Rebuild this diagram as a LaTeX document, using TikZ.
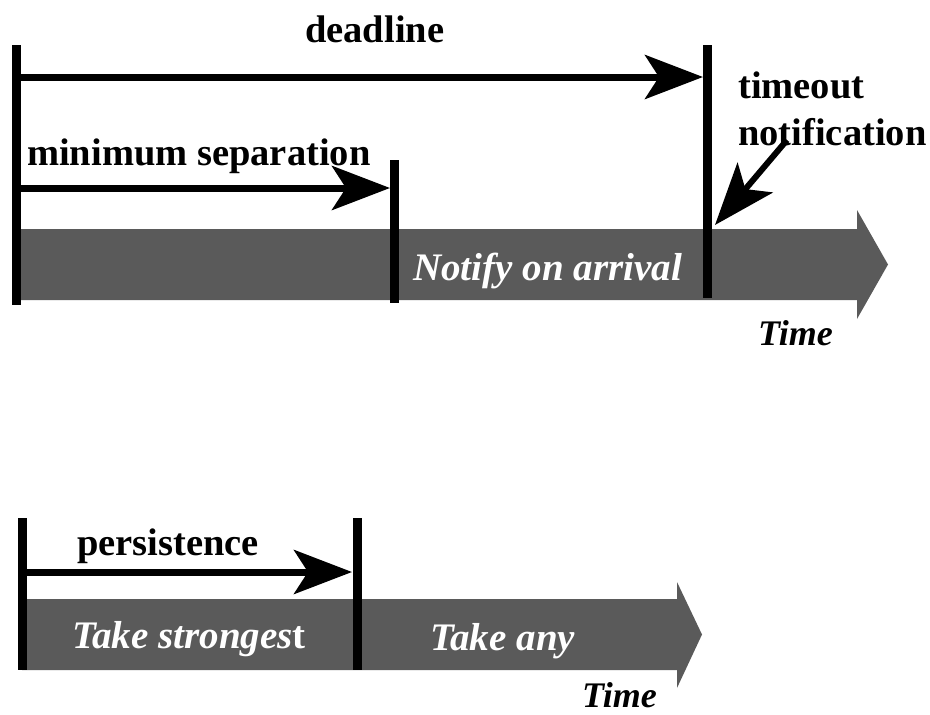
\documentclass[tikz,border=0pt]{standalone}
\usepackage{fontspec}
\setmainfont{Liberation Serif}
\usetikzlibrary{arrows.meta}
\definecolor{bandgray}{HTML}{5A5A5A}
\begin{document}
\begin{tikzpicture}[x=1pt,y=-1pt,
  bar/.style={line width=9pt},
  span/.style={line width=7pt,-{Stealth[length=58pt,width=44pt,inset=14pt]}},
  pointer/.style={line width=6pt,-{Stealth[length=62pt,width=46pt,inset=15pt]}},
  band/.style={fill=bandgray},
  label/.style={font=\fontsize{38.5}{46}\selectfont\bfseries,inner sep=0pt,anchor=base west},
  phase/.style={font=\fontsize{39}{46}\selectfont\bfseries\itshape,text=white,inner sep=0pt,anchor=base west},
  timelabel/.style={font=\fontsize{36}{42}\selectfont\bfseries\itshape,inner sep=0pt,anchor=base west}
]
\fill[white] (0,0) rectangle (930,715);
\useasboundingbox (0,0) rectangle (930,715);

% ---------- upper time line ----------
\fill[band] (17,229) -- (857,229) -- (857,210) -- (888,264.5) -- (857,319) -- (857,300) -- (17,300) -- cycle;

\coordinate (startTop) at (16.5,45);   \coordinate (startBot) at (16.5,305);
\coordinate (sepTop)   at (394,160);   \coordinate (sepBot)   at (394,303);
\coordinate (dlTop)    at (707.5,45);  \coordinate (dlBot)    at (707.5,298);
\draw[bar] (startTop) -- (startBot);
\draw[bar] (sepTop) -- (sepBot);
\draw[bar] (dlTop) -- (dlBot);

\coordinate (dlFrom)  at (21,77);   \coordinate (dlTo)  at (703,77);
\coordinate (sepFrom) at (21,188);  \coordinate (sepTo) at (390,188);
\draw[span] (dlFrom) -- (dlTo);
\draw[span] (sepFrom) -- (sepTo);

\node[label] (deadline) at (305,42) {deadline};
\node[label] (minsep) at (27,165) {minimum separation};
\node[label] (timeout) at (738,98) {timeout};
\node[label] (notif) at (738,145) {notification};
\coordinate (notifFrom) at (787,140);
\coordinate (notifTo) at (715,225);
\draw[pointer] (notifFrom) -- (notifTo);

\node[phase] (arrival) at (413,280) {Notify on arrival};
\node[timelabel] (timeA) at (758,345) {Time};

% ---------- lower time line ----------
\fill[band] (22,599) -- (677,599) -- (677,582) -- (702,634.5) -- (677,688) -- (677,670) -- (22,670) -- cycle;

\coordinate (pStartTop) at (22.5,518); \coordinate (pStartBot) at (22.5,670);
\coordinate (pEndTop)   at (357,518);  \coordinate (pEndBot)   at (357,670);
\draw[bar] (pStartTop) -- (pStartBot);
\draw[bar] (pEndTop) -- (pEndBot);

\coordinate (pFrom) at (27,572); \coordinate (pTo) at (352,572);
\draw[span] (pFrom) -- (pTo);

\node[label] (persist) at (77,555) {persistence};
\node[phase] (strongest) at (72,648) {Take stronges{\upshape t}};
\node[phase] (anyone) at (430,650) {Take any};
\node[timelabel] (timeB) at (582,707) {Time};
\end{tikzpicture}
\end{document}
